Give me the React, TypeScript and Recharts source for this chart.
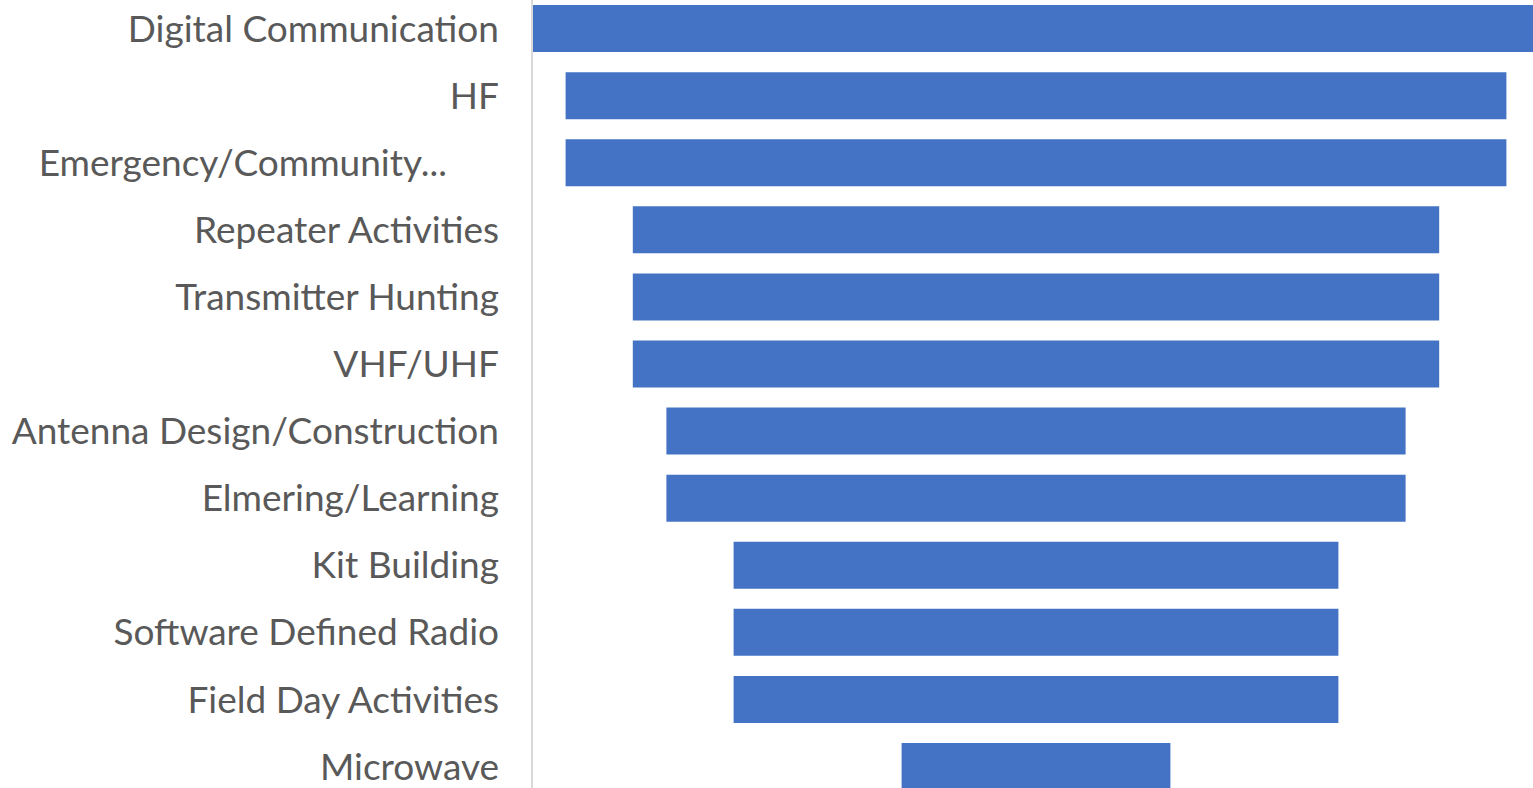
import React from 'react';
import { BarChart, Bar, XAxis, YAxis } from 'recharts';

const categories = [
  'Digital Communication',
  'HF',
  'Emergency/Community...',
  'Repeater Activities',
  'Transmitter Hunting',
  'VHF/UHF',
  'Antenna Design/Construction',
  'Elmering/Learning',
  'Kit Building',
  'Software Defined Radio',
  'Field Day Activities',
  'Microwave',
];
const values = [15, 14, 14, 12, 12, 12, 11, 11, 9, 9, 9, 4];
const maxValue = 15;

const data = categories.map((name, i) => ({
  name,
  offset: (maxValue - values[i]) / 2,
  value: values[i],
}));

const Tick = (props: any) => {
  const { x, y, payload } = props;
  const label: string = payload.value;
  const dx = label.endsWith('...') ? -52 : 0;
  return (
    <text
      x={x + dx}
      y={y}
      dy="0.355em"
      textAnchor="end"
      fill="#595959"
      fontSize={37}
      fontFamily="Lato, 'Open Sans', sans-serif"
    >
      {label}
    </text>
  );
};

export default function App() {
  return (
    <div
      style={{
        position: 'fixed',
        left: 0,
        top: 0,
        width: 1533,
        height: 788,
        overflow: 'hidden',
        background: '#ffffff',
      }}
    >
      <div style={{ position: 'absolute', left: 0, top: -5 }}>
        <BarChart
          width={1540}
          height={805}
          data={data}
          layout="vertical"
          margin={{ top: 0, right: 0, bottom: 0, left: 0 }}
          barCategoryGap="15%"
        >
          <XAxis type="number" domain={[0, maxValue]} hide />
          <YAxis
            type="category"
            dataKey="name"
            width={532}
            tickLine={false}
            tickSize={0}
            tickMargin={33}
            axisLine={{ stroke: '#d9d9d9', strokeWidth: 2 }}
            tick={<Tick />}
            interval={0}
          />
          <Bar dataKey="offset" stackId="f" fill="transparent" isAnimationActive={false} />
          <Bar dataKey="value" stackId="f" fill="#4472C4" isAnimationActive={false} />
        </BarChart>
      </div>
    </div>
  );
}
